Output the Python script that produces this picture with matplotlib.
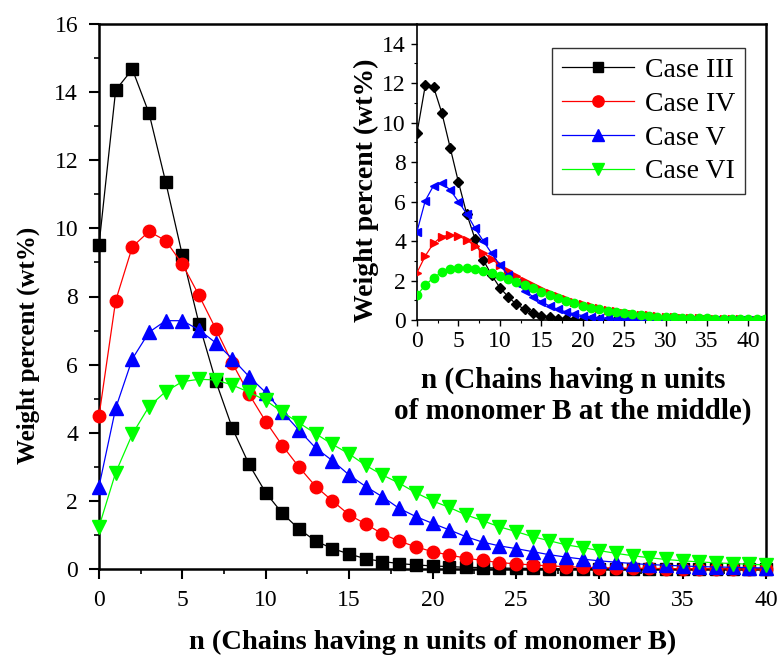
import matplotlib
matplotlib.use('Agg')
import matplotlib.pyplot as plt
import numpy as np

plt.rcParams['font.family'] = ['Liberation Serif', 'DejaVu Serif']

# main plot: n = 0..40
n_main = list(range(41))
case3 = [9.51, 14.06, 14.67, 13.38, 11.36, 9.21, 7.2, 5.52, 4.13, 3.07, 2.24, 1.63, 1.17, 0.82,
         0.6, 0.44, 0.3, 0.22, 0.16, 0.12, 0.09, 0.07, 0.05, 0.04, 0.03, 0.02, 0.02, 0.01, 0.01,
         0.01, 0.01, 0, 0, 0, 0, 0, 0, 0, 0, 0, 0]
case4 = [4.49, 7.88, 9.46, 9.91, 9.64, 8.95, 8.03, 7.05, 6.04, 5.13, 4.33, 3.62, 2.99, 2.42,
         2.0, 1.59, 1.32, 1.03, 0.82, 0.65, 0.51, 0.41, 0.32, 0.25, 0.19, 0.15, 0.12, 0.09, 0.07,
         0.05, 0.04, 0.03, 0.02, 0.02, 0.01, 0.01, 0.01, 0.01, 0, 0, 0]
case5 = [2.42, 4.72, 6.17, 6.95, 7.29, 7.29, 7.02, 6.64, 6.17, 5.65, 5.18, 4.61, 4.07, 3.55,
         3.18, 2.76, 2.42, 2.12, 1.78, 1.54, 1.34, 1.15, 0.95, 0.79, 0.68, 0.6, 0.51, 0.42, 0.35,
         0.29, 0.24, 0.2, 0.16, 0.13, 0.11, 0.09, 0.07, 0.06, 0.05, 0.04, 0.03]
case6 = [1.24, 2.83, 3.96, 4.77, 5.21, 5.5, 5.57, 5.55, 5.4, 5.19, 4.95, 4.6, 4.29, 3.97,
         3.66, 3.38, 3.04, 2.76, 2.52, 2.24, 2.0, 1.81, 1.59, 1.42, 1.24, 1.1, 0.95, 0.83, 0.71,
         0.63, 0.54, 0.46, 0.39, 0.33, 0.28, 0.24, 0.21, 0.18, 0.16, 0.14, 0.12]

# inset: n = 0..42 (B at the middle)
n_inset = list(range(43))
mid3 = [9.47, 11.89, 11.81, 10.49, 8.74, 6.99, 5.38, 4.11, 3.04, 2.28, 1.64, 1.18, 0.79, 0.54,
        0.34, 0.2, 0.14, 0.07, 0.04, 0.02, 0.01, 0.01] + [0] * 21
mid4 = [2.4, 3.25, 3.89, 4.23, 4.31, 4.26, 4.06, 3.75, 3.42, 3.08, 2.79, 2.5, 2.25, 1.99, 1.78,
        1.57, 1.39, 1.22, 1.05, 0.93, 0.81, 0.7, 0.6, 0.52, 0.44, 0.38, 0.32, 0.27, 0.23, 0.19,
        0.16, 0.13, 0.11, 0.09, 0.08, 0.06, 0.05, 0.04, 0.04, 0.03, 0.02, 0.02, 0.02]
mid5 = [4.48, 6.05, 6.81, 6.93, 6.6, 6.0, 5.38, 4.65, 4.01, 3.38, 2.79, 2.28, 1.86, 1.49, 1.18,
        0.93, 0.71, 0.54, 0.41, 0.31, 0.22, 0.16, 0.12, 0.09, 0.06, 0.05, 0.03, 0.02, 0.02, 0.01,
        0.01, 0.01] + [0] * 11
mid6 = [1.27, 1.76, 2.15, 2.42, 2.57, 2.66, 2.64, 2.59, 2.49, 2.38, 2.25, 2.1, 1.95, 1.78, 1.62,
        1.44, 1.27, 1.1, 0.98, 0.85, 0.73, 0.63, 0.54, 0.46, 0.39, 0.33, 0.28, 0.24, 0.2, 0.17,
        0.15, 0.13, 0.11, 0.1, 0.09, 0.08, 0.07, 0.06, 0.06, 0.05, 0.05, 0.05, 0.04]

labels = ['Case III', 'Case IV', 'Case V', 'Case VI']
colors = ['#000000', '#ff0000', '#0000ff', '#00ff00']

fig = plt.figure(figsize=(7.8, 6.62), dpi=100)
ax = fig.add_axes([99 / 780, 93 / 662, 667 / 780, 545 / 662])

main_series = [(case3, 's', 8), (case4, 'o', 9), (case5, '^', 10), (case6, 'v', 10)]
handles = []
for (vals, mk, ms), c, lab in zip(main_series, colors, labels):
    h, = ax.plot(n_main, vals, color=c, marker=mk, markersize=ms, lw=0.9,
                 label=lab, clip_on=False, zorder=3)
    handles.append(h)

ax.set_xlim(0, 40)
ax.set_ylim(0, 16)
ax.set_xticks(range(0, 41, 5))
ax.set_xticks(np.arange(0, 40.1, 2.5), minor=True)
ax.set_yticks(range(0, 17, 2))
ax.set_yticks(range(0, 17), minor=True)
ax.tick_params(which='major', direction='out', length=7, width=1.5, labelsize=17, pad=8)
ax.tick_params(which='minor', direction='out', length=3.5, width=1.2)
for s in ax.spines.values():
    s.set_linewidth(1.8)
ax.set_xlabel('n (Chains having n units of monomer B)', fontsize=20.5, fontweight='bold')
ax.set_ylabel('Weight percent (wt%)', fontsize=18, fontweight='bold')
ax.xaxis.set_label_coords(0.5, -0.112)
ax.yaxis.set_label_coords(-0.088, 0.41)

# inset
ins = fig.add_axes([417 / 780, 342 / 662, 348 / 780, 296 / 662])
ins.patch.set_alpha(0)
inset_series = [(mid3, 'D', 5), (mid4, '>', 6), (mid5, '<', 6), (mid6, 'o', 6)]
for (vals, mk, ms), c in zip(inset_series, colors):
    ins.plot(n_inset, vals, color=c, marker=mk, markersize=ms, lw=0.9, zorder=3)
ins.set_xlim(0, 42)
ins.set_ylim(0, 15)
ins.set_xticks(range(0, 41, 5))
ins.set_xticks(np.arange(0, 42, 2.5), minor=True)
ins.set_yticks(range(0, 15, 2))
ins.set_yticks(range(0, 16), minor=True)
ins.tick_params(which='major', direction='out', length=4, width=1.0, labelsize=17, pad=4)
ins.tick_params(which='minor', direction='out', length=2.5, width=0.8)
ins.spines['top'].set_visible(False)
ins.spines['right'].set_visible(False)
ins.spines['left'].set_linewidth(1.2)
ins.spines['bottom'].set_linewidth(1.2)
ins.set_xlabel('n (Chains having n units\nof monomer B at the middle)', fontsize=21,
               fontweight='bold', linespacing=1.15)
ins.set_ylabel('Weight percent (wt%)', fontsize=20, fontweight='bold')
ins.xaxis.set_label_coords(0.448, -0.158)
ins.yaxis.set_label_coords(-0.11, 0.44)

leg = ins.legend(handles=handles, loc='upper right', bbox_to_anchor=(0.9425, 0.919),
                 borderaxespad=0, fontsize=20, frameon=True, fancybox=False,
                 handlelength=2.6, handletextpad=0.4, labelspacing=0.3,
                 borderpad=0.35, markerscale=0.9)
leg.get_frame().set_edgecolor('black')
leg.get_frame().set_linewidth(1.0)

fig.savefig('out.png', dpi=100)
